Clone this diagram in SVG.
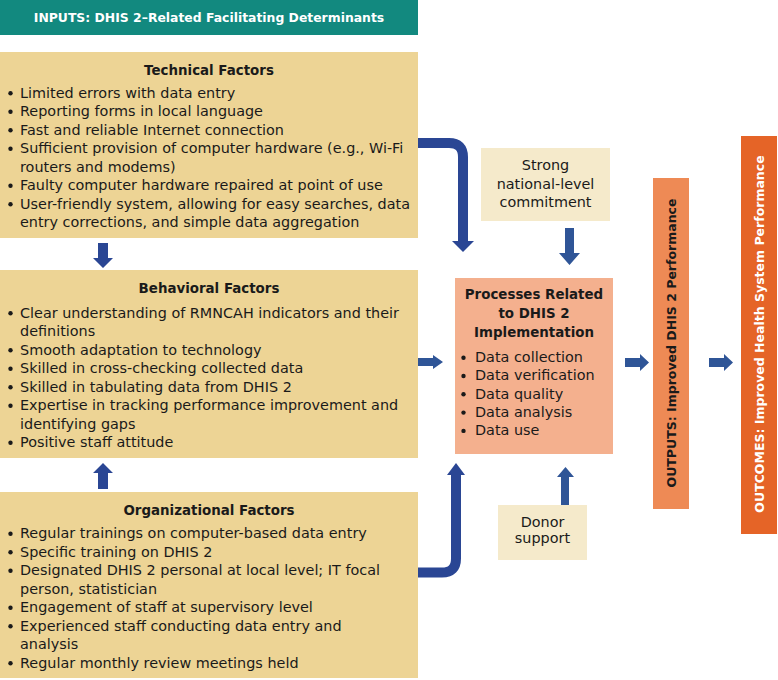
<svg xmlns="http://www.w3.org/2000/svg" width="778" height="680" viewBox="0 0 778 680">
<style>
  text { font-family: "DejaVu Sans", "Liberation Sans", sans-serif; fill: #1a1a1a; }
  .body { font-size: 14.4px; }
  .title { font-size: 13.4px; font-weight: bold; text-anchor: middle; }
  .mid { text-anchor: middle; }
  .vert { font-size: 12.5px; font-weight: bold; text-anchor: middle; }
  .factor { fill: #EDD495; }
  .light { fill: #F5EACB; }
  .dot { fill: #1a1a1a; }
  .arrow { fill: #2A4694; }
  .arrow2 { fill: #2F5597; }
  .bent { fill: none; stroke: #2A4694; stroke-width: 10; }
</style>

<g id="header">
  <rect x="0" y="0" width="418" height="35" fill="#12897F"/>
  <text x="209" y="22" style="font-size:12.4px;font-weight:bold;fill:#ffffff" text-anchor="middle">INPUTS: DHIS 2–Related Facilitating Determinants</text>
</g>

<g id="technical">
  <rect class="factor" x="0" y="52" width="418" height="186"/>
  <text class="title" x="209" y="75">Technical Factors</text>
  <circle class="dot" cx="10.5" cy="93.2" r="2.2"/>
  <text class="body" x="20" y="97.5">Limited errors with data entry</text>
  <circle class="dot" cx="10.5" cy="111.7" r="2.2"/>
  <text class="body" x="20" y="116">Reporting forms in local language</text>
  <circle class="dot" cx="10.5" cy="130.2" r="2.2"/>
  <text class="body" x="20" y="134.5">Fast and reliable Internet connection</text>
  <circle class="dot" cx="10.5" cy="148.7" r="2.2"/>
  <text class="body" x="20" y="153">Sufficient provision of computer hardware (e.g., Wi-Fi</text>
  <text class="body" x="20" y="171.5">routers and modems)</text>
  <circle class="dot" cx="10.5" cy="185.7" r="2.2"/>
  <text class="body" x="20" y="190">Faulty computer hardware repaired at point of use</text>
  <circle class="dot" cx="10.5" cy="204.2" r="2.2"/>
  <text class="body" x="20" y="208.5">User-friendly system, allowing for easy searches, data</text>
  <text class="body" x="20" y="227">entry corrections, and simple data aggregation</text>
</g>

<g id="behavioral">
  <rect class="factor" x="0" y="270" width="418" height="188"/>
  <text class="title" x="209" y="293">Behavioral Factors</text>
  <circle class="dot" cx="10.5" cy="313.2" r="2.2"/>
  <text class="body" x="20" y="317.5">Clear understanding of RMNCAH indicators and their</text>
  <text class="body" x="20" y="336">definitions</text>
  <circle class="dot" cx="10.5" cy="350.2" r="2.2"/>
  <text class="body" x="20" y="354.5">Smooth adaptation to technology</text>
  <circle class="dot" cx="10.5" cy="368.7" r="2.2"/>
  <text class="body" x="20" y="373">Skilled in cross-checking collected data</text>
  <circle class="dot" cx="10.5" cy="387.2" r="2.2"/>
  <text class="body" x="20" y="391.5">Skilled in tabulating data from DHIS 2</text>
  <circle class="dot" cx="10.5" cy="405.7" r="2.2"/>
  <text class="body" x="20" y="410">Expertise in tracking performance improvement and</text>
  <text class="body" x="20" y="428.5">identifying gaps</text>
  <circle class="dot" cx="10.5" cy="442.7" r="2.2"/>
  <text class="body" x="20" y="447">Positive staff attitude</text>
</g>

<g id="organizational">
  <rect class="factor" x="0" y="492" width="418" height="186"/>
  <text class="title" x="209" y="515">Organizational Factors</text>
  <circle class="dot" cx="10.5" cy="533.7" r="2.2"/>
  <text class="body" x="20" y="538">Regular trainings on computer-based data entry</text>
  <circle class="dot" cx="10.5" cy="552.2" r="2.2"/>
  <text class="body" x="20" y="556.5">Specific training on DHIS 2</text>
  <circle class="dot" cx="10.5" cy="570.7" r="2.2"/>
  <text class="body" x="20" y="575">Designated DHIS 2 personal at local level; IT focal</text>
  <text class="body" x="20" y="593.5">person, statistician</text>
  <circle class="dot" cx="10.5" cy="607.7" r="2.2"/>
  <text class="body" x="20" y="612">Engagement of staff at supervisory level</text>
  <circle class="dot" cx="10.5" cy="626.2" r="2.2"/>
  <text class="body" x="20" y="630.5">Experienced staff conducting data entry and</text>
  <text class="body" x="20" y="649">analysis</text>
  <circle class="dot" cx="10.5" cy="663.2" r="2.2"/>
  <text class="body" x="20" y="667.5">Regular monthly review meetings held</text>
</g>

<g id="commitment">
  <rect class="light" x="481" y="148" width="129" height="73"/>
  <text class="body mid" x="545.5" y="170">Strong</text>
  <text class="body mid" x="545.5" y="188.5">national-level</text>
  <text class="body mid" x="545.5" y="207">commitment</text>
</g>

<g id="donor">
  <rect class="light" x="498" y="505" width="89" height="55"/>
  <text class="body mid" x="542.5" y="527">Donor</text>
  <text class="body mid" x="542.5" y="543">support</text>
</g>

<g id="processes">
  <rect x="455" y="278" width="158" height="176" fill="#F4B08E"/>
  <text class="title" x="534" y="299">Processes Related</text>
  <text class="title" x="534" y="318">to DHIS 2</text>
  <text class="title" x="534" y="337">Implementation</text>
  <circle class="dot" cx="463.5" cy="357.7" r="2.2"/>
  <text class="body" x="475" y="362">Data collection</text>
  <circle class="dot" cx="463.5" cy="376" r="2.2"/>
  <text class="body" x="475" y="380.3">Data verification</text>
  <circle class="dot" cx="463.5" cy="394.3" r="2.2"/>
  <text class="body" x="475" y="398.6">Data quality</text>
  <circle class="dot" cx="463.5" cy="412.6" r="2.2"/>
  <text class="body" x="475" y="416.9">Data analysis</text>
  <circle class="dot" cx="463.5" cy="430.9" r="2.2"/>
  <text class="body" x="475" y="435.2">Data use</text>
</g>

<g id="outputs">
  <rect x="653" y="178" width="36" height="331" fill="#EE8A55"/>
  <text class="vert" transform="translate(675.5,343) rotate(-90)">OUTPUTS: Improved DHIS 2 Performance</text>
</g>

<g id="outcomes">
  <rect x="741" y="136" width="36" height="398" fill="#E56427"/>
  <text class="vert" style="fill:#ffffff" transform="translate(763.5,334) rotate(-90)">OUTCOMES: Improved Health System Performance</text>
</g>

<g id="connectors">
  <!-- Technical -> Behavioral -->
  <polygon class="arrow" points="98,243 108,243 108,258 113,258 103,268 93,258 98,258"/>
  <!-- Organizational -> Behavioral -->
  <polygon class="arrow" points="98,489 108,489 108,473 113,473 103,463 93,473 98,473"/>
  <!-- Technical -> Processes (bent) -->
  <path class="bent" d="M418,143 H449 Q463,143 463,157 V242"/>
  <polygon class="arrow" points="452,241 474,241 463,252"/>
  <!-- Organizational -> Processes (bent) -->
  <path class="bent" d="M418,572.5 H442 Q456,572.5 456,558.5 V474"/>
  <polygon class="arrow" points="447,475 465,475 456,463"/>
  <!-- Behavioral -> Processes -->
  <polygon class="arrow2" points="418,358 433,358 433,355 443,362 433,369 433,366 418,366"/>
  <!-- Commitment -> Processes -->
  <polygon class="arrow2" points="565,228 574,228 574,253 580,253 569.5,265 559,253 565,253"/>
  <!-- Donor -> Processes -->
  <polygon class="arrow2" points="561,505 569,505 569,477 574,477 565.5,467 557,477 561,477"/>
  <!-- Processes -> Outputs -->
  <polygon class="arrow2" points="625,358 640,358 640,354 649,362.5 640,371 640,367 625,367"/>
  <!-- Outputs -> Outcomes -->
  <polygon class="arrow2" points="709,358 724,358 724,354 733,362.5 724,371 724,367 709,367"/>
</g>
</svg>
